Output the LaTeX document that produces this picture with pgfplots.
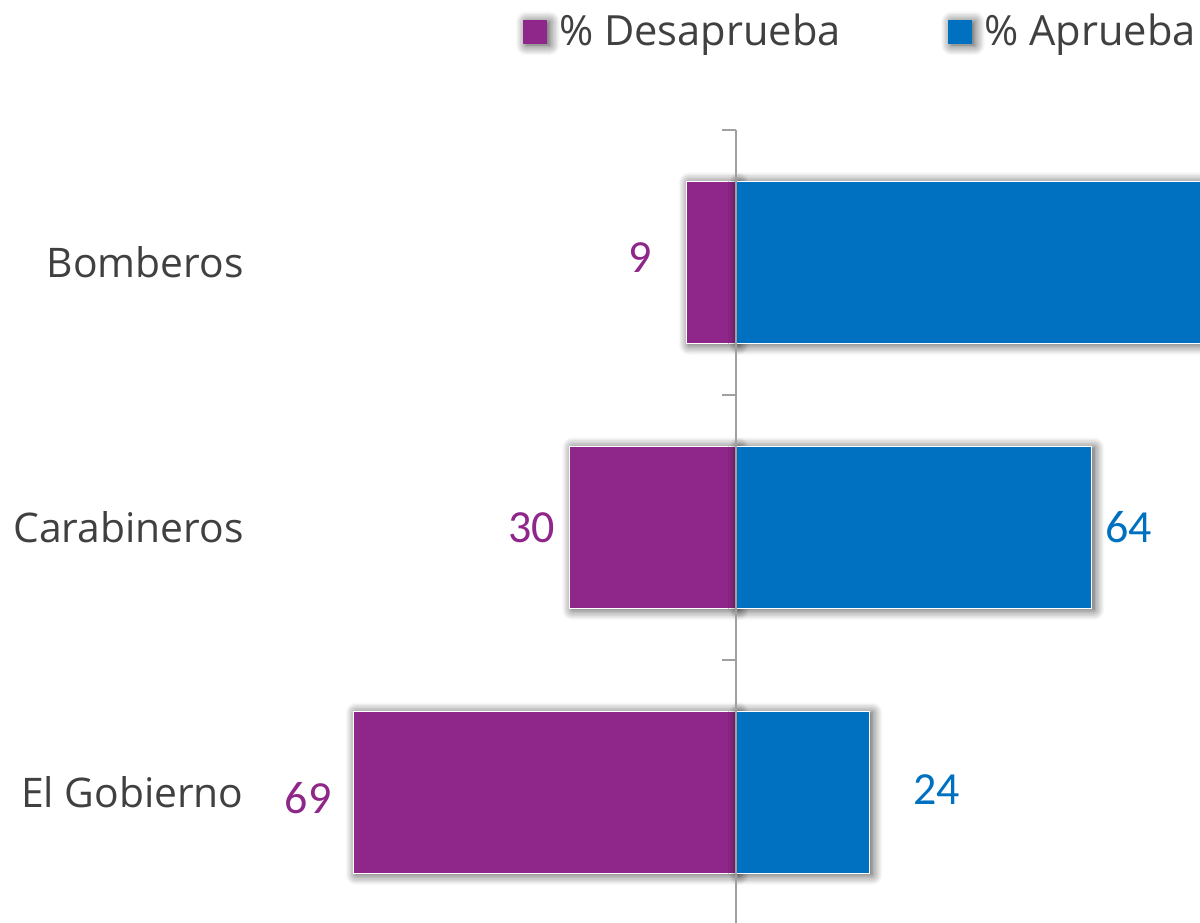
\documentclass[border=0pt]{standalone}
\usepackage{fontspec}
\setmainfont{Open Sans}
\newfontfamily\numfont{Carlito}
\usepackage{pgfplots}
\pgfplotsset{compat=1.18}
\usetikzlibrary{shadows.blur}

\definecolor{purp}{RGB}{142,39,137}
\definecolor{azul}{RGB}{0,112,192}
\definecolor{txt}{RGB}{64,64,64}
\definecolor{axisgray}{RGB}{160,160,160}

\pgfplotsset{
  barshadow/.style={blur shadow={shadow xshift=0.7pt, shadow yshift=-0.3pt,
      shadow blur radius=2.6pt, shadow opacity=75, shadow blur steps=8}},
}

\begin{document}
\begin{tikzpicture}
\begin{axis}[
    name=ax,
    scale only axis,
    width=235pt, height=198.75pt,
    xmin=-85.8, xmax=83.6,
    ymin=-0.5, ymax=2.5,
    axis line style={draw=none},
    major tick length=0pt,
    xtick=\empty,
    ytick={0,1,2},
    yticklabels={El Gobierno, Carabineros, Bomberos},
    yticklabel style={font=\fontsize{10.2}{12}\selectfont, text=txt,
        inner sep=0pt, xshift=-3.9pt},
    legend columns=2,
    legend style={draw=none, fill=none, at={(0.279,1.123)}, anchor=west,
        inner sep=0pt, font=\fontsize{10.4}{12}\selectfont, text=txt,
        /tikz/every even column/.append style={column sep=24.8pt}},
    legend cell align=left,
]

% % Desaprueba (plotted to the left of zero)
\addplot[xbar, bar width=0.611, bar shift=0pt, fill=purp, draw=white,
    line width=0.25pt, barshadow,
    legend image code/.code={\fill[purp] (0pt,-2.9pt) rectangle (5.8pt,2.9pt);
        \path (6.8pt,0pt);}]
  coordinates {(-69,0) (-30,1) (-9,2)};
\addlegendentry{\% Desaprueba}

% % Aprueba
\addplot[xbar, bar width=0.611, bar shift=0pt, fill=azul, draw=white,
    line width=0.25pt, barshadow,
    legend image code/.code={\fill[azul] (0pt,-2.9pt) rectangle (5.8pt,2.9pt);
        \path (6.8pt,0pt);}]
  coordinates {(24,0) (64,1) (88,2)};
\addlegendentry{\% Aprueba}

% value labels, positioned as in the source chart
\addplot[forget plot, draw=none, mark=none, nodes near coords,
    point meta=explicit symbolic,
    every node near coord/.append style={anchor=center, inner sep=0pt,
        font=\numfont\fontsize{11.5}{13}\selectfont, text=purp}]
  coordinates {(-77.1,-0.02) [69] (-36.9,1.0) [30] (-17.3,2.017) [9]};
\addplot[forget plot, draw=none, mark=none, nodes near coords,
    point meta=explicit symbolic,
    every node near coord/.append style={anchor=center, inner sep=0pt,
        font=\numfont\fontsize{11.5}{13}\selectfont, text=azul}]
  coordinates {(36.2,0.013) [24] (70.8,1.0) [64]};
\end{axis}

% zero line with category separator ticks
\begin{axis}[
    scale only axis,
    width=116pt, height=198.75pt,
    at={(ax.south east)}, anchor=south east,
    xmin=0, xmax=83.6,
    ymin=-0.5, ymax=2.5,
    axis x line=none,
    axis y line*=left,
    y axis line style={draw=axisgray, line width=0.5pt},
    ytick={0.5,1.5,2.5},
    yticklabels={},
    tick align=outside,
    major tick length=3.5pt,
    ytick style={draw=axisgray, line width=0.5pt},
]
\addplot[draw=none] coordinates {(0,0)};
\end{axis}

\pgfresetboundingbox
\path[use as bounding box] ([xshift=-65pt, yshift=0.75pt]ax.south west)
    rectangle ([yshift=32.5pt]ax.north east);
\end{tikzpicture}
\end{document}
